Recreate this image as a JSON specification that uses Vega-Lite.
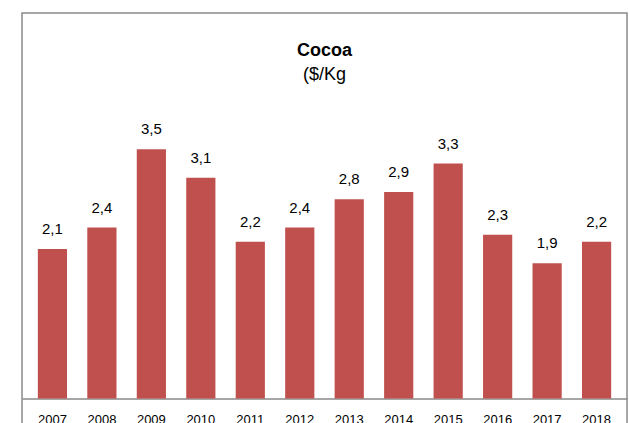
{
  "$schema": "https://vega.github.io/schema/vega-lite/v6.json",
  "width": 605,
  "height": 412,
  "autosize": {"type": "none"},
  "padding": {"left": 22, "top": 13, "right": 2, "bottom": -2},
  "background": "white",
  "config": {
    "locale": {"number": {"decimal": ",", "thousands": ".", "grouping": [3], "currency": ["", " €"]}},
    "view": {"stroke": "#8a8a8a", "strokeWidth": 1.5},
    "font": "Liberation Sans"
  },
  "title": {
    "text": "Cocoa",
    "subtitle": "($/Kg",
    "anchor": "middle",
    "offset": -71,
    "font": "Liberation Sans",
    "fontSize": 18,
    "fontWeight": "bold",
    "color": "black",
    "subtitleFont": "Liberation Sans",
    "subtitleFontSize": 18,
    "subtitleColor": "black",
    "subtitlePadding": 6
  },
  "data": {
    "values": [
      {"year": "2007", "value": 2.1},
      {"year": "2008", "value": 2.4},
      {"year": "2009", "value": 3.5},
      {"year": "2010", "value": 3.1},
      {"year": "2011", "value": 2.2},
      {"year": "2012", "value": 2.4},
      {"year": "2013", "value": 2.8},
      {"year": "2014", "value": 2.9},
      {"year": "2015", "value": 3.3},
      {"year": "2016", "value": 2.3},
      {"year": "2017", "value": 1.9},
      {"year": "2018", "value": 2.2}
    ]
  },
  "encoding": {
    "x": {
      "field": "year",
      "type": "ordinal",
      "scale": {"paddingInner": 0.41, "paddingOuter": 0.32},
      "axis": {
        "title": null,
        "labelAngle": 0,
        "offset": -26.5,
        "domainColor": "#888888",
        "domainWidth": 1.5,
        "ticks": false,
        "labelPadding": 15,
        "labelFontSize": 13,
        "labelColor": "black",
        "labelFont": "Liberation Sans"
      }
    },
    "y": {
      "field": "value",
      "type": "quantitative",
      "scale": {"domain": [-0.372, 5.414], "nice": false, "zero": false},
      "axis": null
    }
  },
  "layer": [
    {
      "mark": {"type": "bar", "color": "#C0504D"},
      "encoding": {"y2": {"datum": 0}}
    },
    {
      "mark": {"type": "text", "baseline": "alphabetic", "dy": -15, "fontSize": 15, "color": "black", "font": "Liberation Sans"},
      "encoding": {"text": {"field": "value", "type": "quantitative", "format": ".1f"}}
    }
  ]
}
